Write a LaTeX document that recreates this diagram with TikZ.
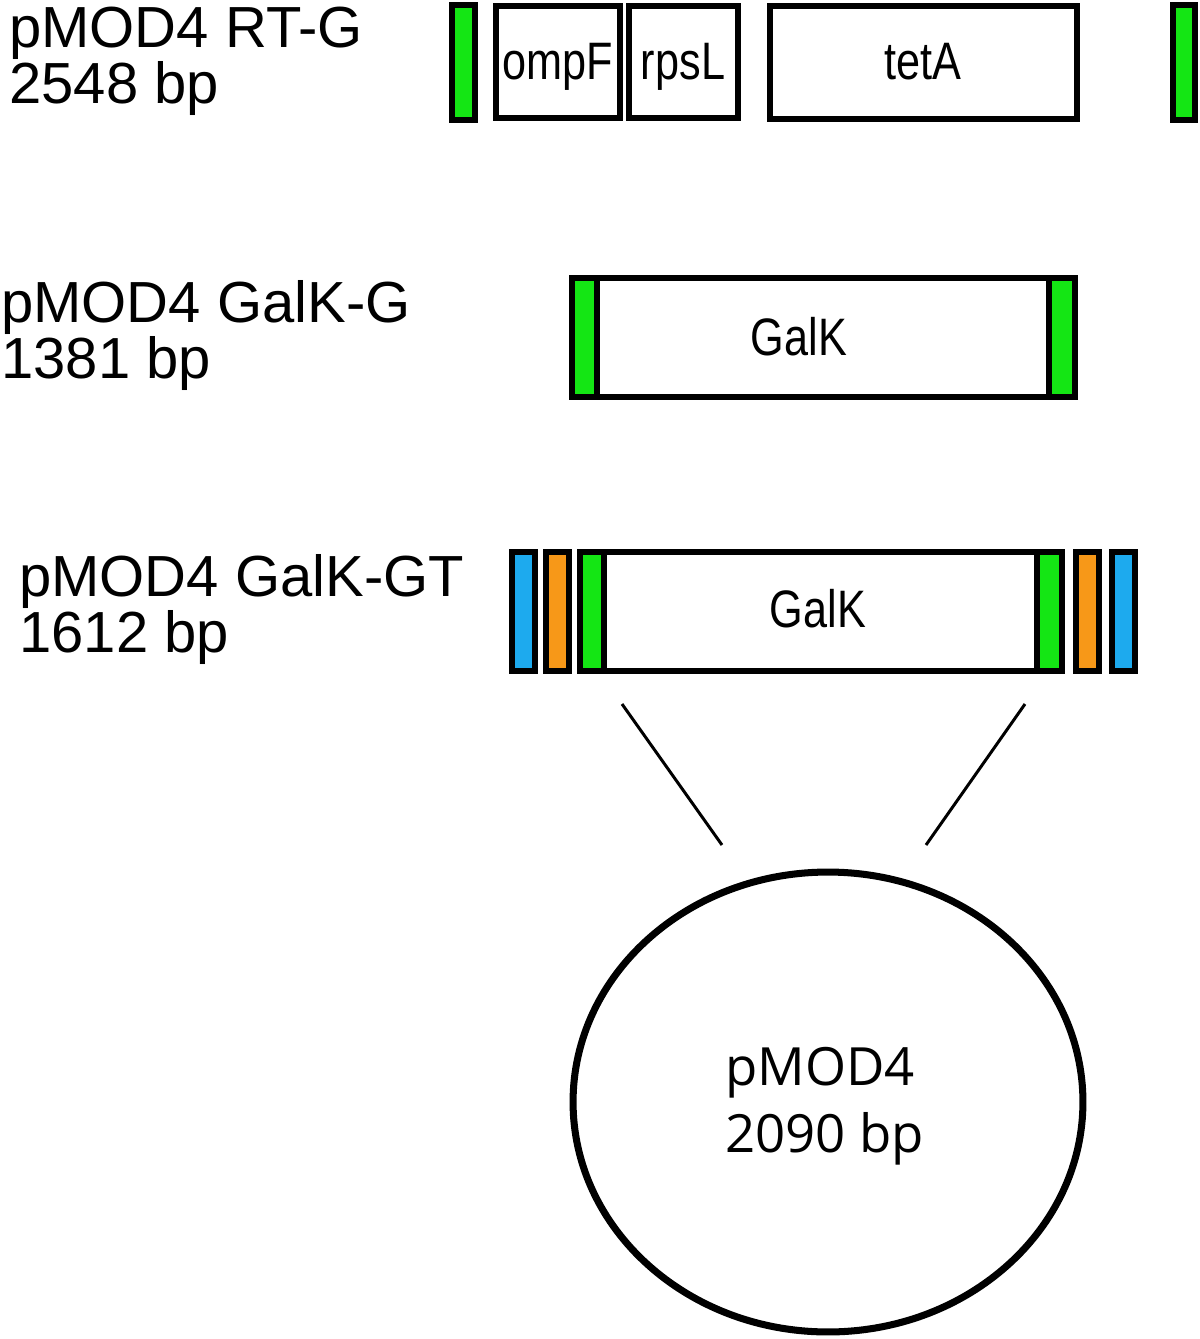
\documentclass[tikz,border=0pt]{standalone}
\usepackage{fontspec}
\setmainfont{Liberation Sans}
\newfontfamily\narrowfont[FakeStretch=0.82]{Liberation Sans}
\newfontfamily\roundfont{Open Sans}
\usetikzlibrary{shapes.geometric}
\definecolor{ggreen}{RGB}{20,230,20}
\definecolor{gorange}{RGB}{247,152,24}
\definecolor{gblue}{RGB}{29,170,238}

\begin{document}
\begin{tikzpicture}[x=0.02cm,y=-0.02cm,
    box/.style={line width=3.3pt,fill=white},
    gbar/.style={box,fill=ggreen},
    obar/.style={box,fill=gorange},
    bbar/.style={box,fill=gblue},
    lbl/.style={anchor=base west,align=left,inner sep=0,font=\fontsize{33}{29}\selectfont},
    gene/.style={anchor=base,inner sep=0,font=\narrowfont\fontsize{30}{30}\selectfont},
    cut/.style={line width=1.7pt}]
    \useasboundingbox (0,0) rectangle (1200,1339);

    % pMOD4 RT-G
    \node[lbl] (rtname) at (9,103) {pMOD4 RT-G\\2548 bp};
    \draw[gbar] (452,5) rectangle (475,120);
    \draw[box] (496,6) rectangle (620,118);
    \draw[box] (629,6) rectangle (738,118);
    \draw[box] (770,6) rectangle (1077,119);
    \draw[gbar] (1173,5) rectangle (1195,120);
    \node[gene] (ompf) at (558,79) {ompF};
    \node[gene] (rpsl) at (683,79) {rpsL};
    \node[gene] (teta) at (923,79) {tetA};

    % pMOD4 GalK-G
    \node[lbl] (gname) at (1,378) {pMOD4 GalK-G\\1381 bp};
    \draw[gbar] (572,278) rectangle (597,397);
    \draw[box] (597,278) rectangle (1049,397);
    \draw[gbar] (1049,278) rectangle (1075,397);
    \node[gene] (galkg) at (799,355) {GalK};

    % pMOD4 GalK-GT
    \node[lbl] (gtname) at (19,652) {pMOD4 GalK-GT\\1612 bp};
    \draw[bbar] (512,552) rectangle (535,671);
    \draw[obar] (546,552) rectangle (569,671);
    \draw[gbar] (580,552) rectangle (604,671);
    \draw[box] (604,552) rectangle (1037,671);
    \draw[gbar] (1037,552) rectangle (1062,671);
    \draw[obar] (1076,552) rectangle (1099,671);
    \draw[bbar] (1112,552) rectangle (1135,671);
    \node[gene] (galkgt) at (818,627) {GalK};

    % insert into pMOD4
    \coordinate (cutL) at (622,704);
    \coordinate (cutR) at (1025,704);
    \coordinate (tipL) at (722,845);
    \coordinate (tipR) at (926,845);
    \draw[cut] (cutL) -- (tipL);
    \draw[cut] (cutR) -- (tipR);

    \node[ellipse,draw,line width=4pt,inner sep=0,minimum width=10.2cm,minimum height=9.2cm] (plasmid) at (828,1102) {};
    \node[anchor=base west,align=left,inner sep=0,font=\roundfont\fontsize{30}{38}\selectfont] (pname) at (725,1152) {pMOD4\\2090 bp};
  \end{tikzpicture}
\end{document}
